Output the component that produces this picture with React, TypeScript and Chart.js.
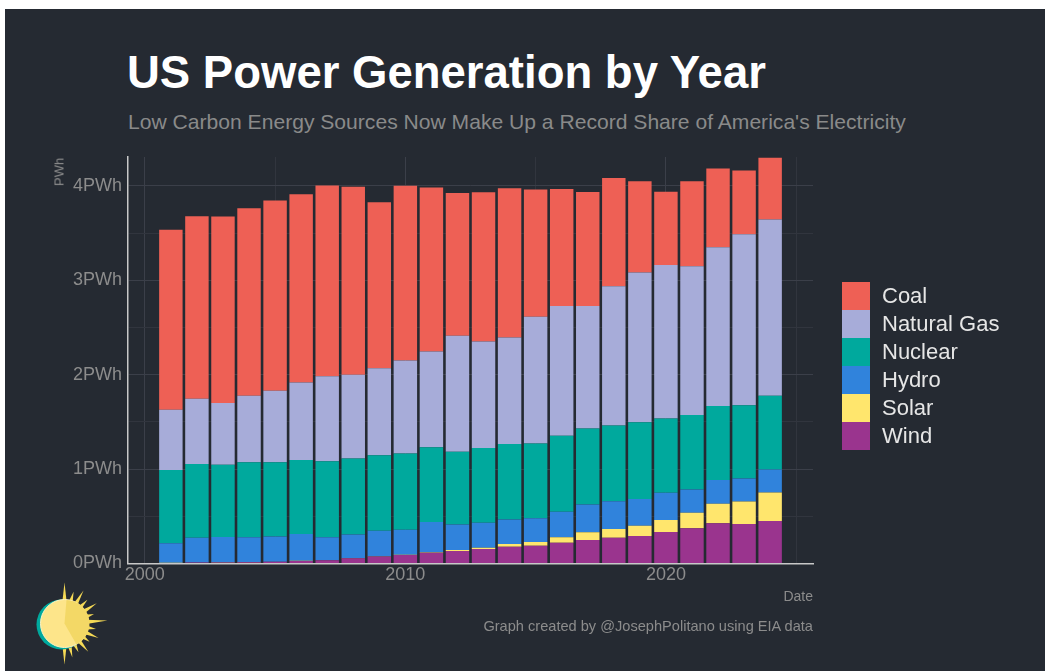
import React, { useEffect, useRef } from "react";
import { Chart, registerables } from "chart.js";

Chart.register(...registerables);

const years = [2001, 2002, 2003, 2004, 2005, 2006, 2007, 2008, 2009, 2010, 2011, 2012, 2013, 2014, 2015, 2016, 2017, 2018, 2019, 2020, 2021, 2022, 2023, 2024];
const coal = [1.905, 1.933, 1.976, 1.986, 2.014, 1.993, 2.021, 1.990, 1.760, 1.852, 1.735, 1.513, 1.580, 1.581, 1.348, 1.238, 1.207, 1.146, 0.967, 0.776, 0.900, 0.833, 0.674, 0.656];
const naturalGas = [0.639, 0.691, 0.652, 0.705, 0.758, 0.822, 0.900, 0.889, 0.920, 0.984, 1.016, 1.228, 1.129, 1.128, 1.340, 1.375, 1.298, 1.475, 1.584, 1.626, 1.576, 1.682, 1.810, 1.866];
const nuclear = [0.776, 0.780, 0.766, 0.794, 0.787, 0.783, 0.804, 0.804, 0.801, 0.808, 0.791, 0.769, 0.790, 0.798, 0.794, 0.805, 0.804, 0.804, 0.814, 0.786, 0.787, 0.783, 0.776, 0.780];
const hydro = [0.207, 0.263, 0.269, 0.263, 0.266, 0.285, 0.243, 0.250, 0.270, 0.264, 0.320, 0.271, 0.264, 0.261, 0.251, 0.271, 0.296, 0.293, 0.283, 0.290, 0.247, 0.251, 0.244, 0.243];
const solar = [0.001, 0.001, 0.001, 0.001, 0.001, 0.001, 0.001, 0.002, 0.002, 0.003, 0.004, 0.010, 0.015, 0.028, 0.038, 0.057, 0.081, 0.092, 0.109, 0.127, 0.166, 0.208, 0.239, 0.303];
const wind = [0.006, 0.010, 0.011, 0.014, 0.018, 0.027, 0.034, 0.055, 0.074, 0.090, 0.115, 0.133, 0.153, 0.178, 0.189, 0.220, 0.249, 0.273, 0.291, 0.333, 0.372, 0.425, 0.418, 0.450];

const seriesNames = ["Coal", "Natural Gas", "Nuclear", "Hydro", "Solar", "Wind"];
const seriesColors = ["#EE6055", "#A7ACD9", "#00A99D", "#3083DC", "#FFE66D", "#9A348E"];
const seriesValues = [coal, naturalGas, nuclear, hydro, solar, wind];

const FONT = "'Liberation Sans', Arial, Helvetica, sans-serif";
const BG = "#252A32";
const GREY = "#8C8C8C";

function Sun() {
  const cx = 64.5;
  const cy = 623.5;
  const r = 24;
  const rays: string[] = [];
  const angles = [-90, -74, -60, -46, -32, -18, -4, 10, 23, 36, 50, 64, 77, 90];
  const lens = [41, 33, 38, 33, 38, 31, 43, 32, 37, 31, 37, 32, 35, 41];
  angles.forEach((a, i) => {
    const rad = (a * Math.PI) / 180;
    const w = (5.5 * Math.PI) / 180;
    const tip = [cx + Math.cos(rad) * lens[i], cy + Math.sin(rad) * lens[i]];
    const b1 = [cx + Math.cos(rad - w) * (r - 2), cy + Math.sin(rad - w) * (r - 2)];
    const b2 = [cx + Math.cos(rad + w) * (r - 2), cy + Math.sin(rad + w) * (r - 2)];
    rays.push(`${b1[0]},${b1[1]} ${tip[0]},${tip[1]} ${b2[0]},${b2[1]}`);
  });
  return (
    <svg width={1045} height={671} style={{ position: "absolute", left: 0, top: 0, pointerEvents: "none" }}>
      {rays.map((p, i) => (
        <polygon key={i} points={p} fill="#F6DA55" />
      ))}
      <circle cx={cx - 3} cy={cy + 1} r={r + 1} fill="#00A99D" />
      <circle cx={cx} cy={cy} r={r} fill="#FDE58A" stroke="#FFF3C4" strokeWidth={1} />
      <path d={`M ${cx} ${cy} L ${cx + 2} ${cy - r + 0.5} A ${r - 0.5} ${r - 0.5} 0 0 1 ${cx + 12} ${cy + r - 3} Z`} fill="#F3D866" />
    </svg>
  );
}

export default function App() {
  const ref = useRef<HTMLCanvasElement>(null);

  useEffect(() => {
    const canvas = ref.current;
    if (!canvas) return;
    const datasets = seriesNames
      .map((name, i) => ({
        label: name,
        data: seriesValues[i],
        backgroundColor: seriesColors[i],
        borderWidth: 0,
        barPercentage: 0.9,
        categoryPercentage: 1.0,
      }))
      .reverse();

    const chart = new Chart(canvas, {
      type: "bar",
      data: { labels: years, datasets },
      options: {
        responsive: false,
        animation: false,
        devicePixelRatio: 1,
        layout: { padding: { left: 68, right: 232, top: 157, bottom: 77.5 } },
        plugins: {
          legend: { display: false },
          tooltip: { enabled: false },
          title: { display: false },
        },
        scales: {
          x: {
            type: "linear",
            stacked: true,
            offset: false,
            min: 1999.355,
            max: 2025.645,
            grid: {
              offset: false,
              drawTicks: false,
              lineWidth: 1,
              color: (c: any) => (c.tick && c.tick.value % 10 === 0 ? "#3B3F49" : "#31353E"),
            },
            border: { display: true, color: "#C8C8C8", width: 1.5 },
            ticks: {
              stepSize: 5,
              includeBounds: false,
              autoSkip: false,
              maxRotation: 0,
              padding: 1,
              color: GREY,
              font: { family: FONT, size: 18 },
              callback: (v: any) => (Number(v) % 10 === 0 ? String(v) : ""),
            },
            afterFit: (s: any) => {
              s.height = 30;
            },
          },
          y: {
            type: "linear",
            stacked: true,
            min: 0,
            max: 4.305,
            grid: {
              drawTicks: false,
              lineWidth: 1,
              color: (c: any) => (c.tick && c.tick.value % 1 === 0 ? "#3B3F49" : "#31353E"),
            },
            border: { display: true, color: "#C8C8C8", width: 1.5 },
            ticks: {
              stepSize: 0.5,
              includeBounds: false,
              autoSkip: false,
              padding: 6,
              color: GREY,
              font: { family: FONT, size: 18 },
              callback: (v: any) => (Number(v) % 1 === 0 ? `${v}PWh` : ""),
            },
            afterFit: (s: any) => {
              s.width = 60;
            },
          },
        },
      } as any,
    });
    return () => chart.destroy();
  }, []);

  return (
    <div style={{ position: "absolute", left: 0, top: 0, width: 1045, height: 671, background: "#FFFFFF", overflow: "hidden", fontFamily: FONT }}>
      <div style={{ position: "absolute", left: 5, top: 9, width: 1040, height: 662, background: BG }} />
      <div style={{ position: "absolute", left: 127, top: 49.5, fontSize: 45.5, lineHeight: "45.5px", fontWeight: 700, color: "#FFFFFF", whiteSpace: "nowrap" }}>
        US Power Generation by Year
      </div>
      <div style={{ position: "absolute", left: 128, top: 110.8, fontSize: 21.1, lineHeight: "21px", color: "#8A8A8A", whiteSpace: "nowrap" }}>
        Low Carbon Energy Sources Now Make Up a Record Share of America's Electricity
      </div>
      <canvas ref={ref} width={1045} height={671} style={{ position: "absolute", left: 0, top: 0, width: 1045, height: 671 }} />
      <div style={{ position: "absolute", left: 59, top: 172, transform: "translate(-50%, -50%) rotate(-90deg)", fontSize: 13, lineHeight: "13px", color: GREY, whiteSpace: "nowrap" }}>
        PWh
      </div>
      <div style={{ position: "absolute", left: 842, top: 282 }}>
        {seriesNames.map((name, i) => (
          <div key={name} style={{ display: "flex", alignItems: "center", height: 28 }}>
            <div style={{ width: 28, height: 28, background: seriesColors[i] }} />
            <div style={{ marginLeft: 12, fontSize: 22, lineHeight: "28px", color: "#E6E6E6", whiteSpace: "nowrap" }}>{name}</div>
          </div>
        ))}
      </div>
      <div style={{ position: "absolute", left: 613, top: 589, width: 200, textAlign: "right", fontSize: 14, lineHeight: "14px", color: GREY }}>
        Date
      </div>
      <div style={{ position: "absolute", left: 413, top: 619, width: 400, textAlign: "right", fontSize: 14.6, lineHeight: "15px", color: GREY, whiteSpace: "nowrap" }}>
        Graph created by @JosephPolitano using EIA data
      </div>
      <Sun />
    </div>
  );
}
